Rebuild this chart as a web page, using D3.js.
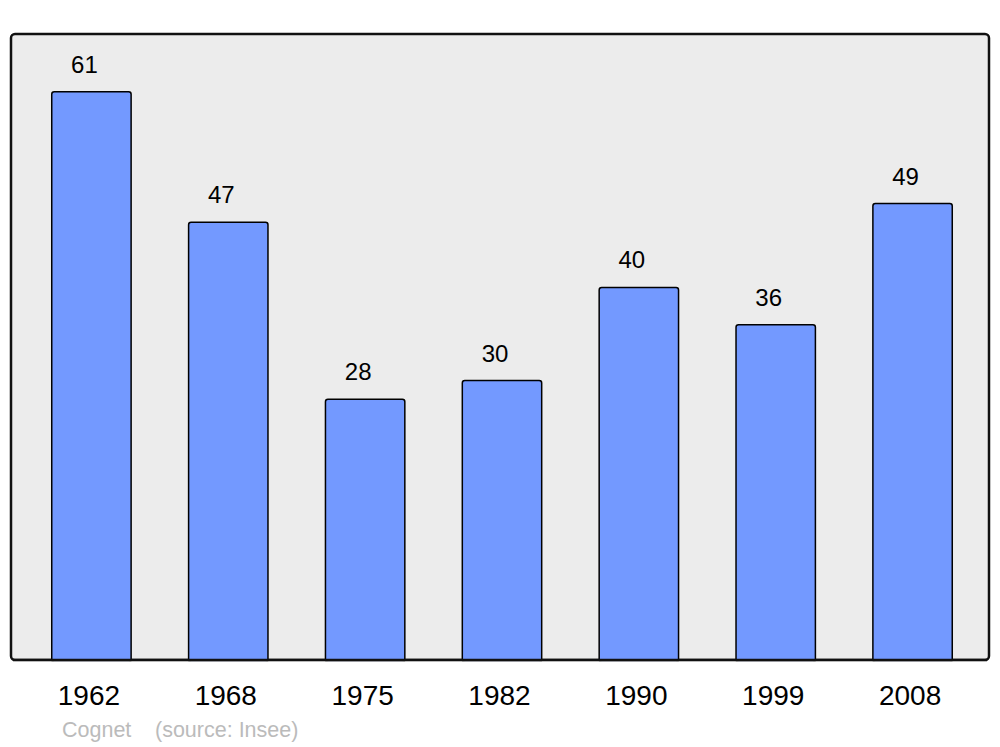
<!DOCTYPE html>
<html><head><meta charset="utf-8">
<script src="https://cdn.jsdelivr.net/npm/d3@7"></script>
<style>html,body{margin:0;padding:0;background:#fff;}svg{display:block;}</style>
</head><body>
<svg id="chart" width="1000" height="747"></svg>
<script>
const years = ["1962","1968","1975","1982","1990","1999","2008"];
const population = [61, 47, 28, 30, 40, 36, 49];
const credit = "Cognet";
const source = "(source: Insee)";

const svg = d3.select("#chart");
const font = "'Liberation Sans', Arial, sans-serif";
const panel = {x0: 11, y0: 34, x1: 989, y1: 660};

svg.append("rect")
  .attr("x", panel.x0).attr("y", panel.y0)
  .attr("width", panel.x1 - panel.x0).attr("height", panel.y1 - panel.y0)
  .attr("rx", 4).attr("ry", 4)
  .attr("fill", "#ececec").attr("stroke", "#111").attr("stroke-width", 2.5);

const x = d3.scaleBand().domain(years).range([23, 981]).paddingInner(0.42).paddingOuter(0.21);
const y = d3.scaleLinear().domain([0, d3.max(population) * 1.1]).range([panel.y1, panel.y0 + 1]);

const data = years.map((yr, i) => ({year: yr, value: population[i]}));

svg.selectAll("rect.bar").data(data).enter().append("rect")
  .attr("class", "bar")
  .attr("x", d => x(d.year))
  .attr("y", d => y(d.value))
  .attr("width", x.bandwidth())
  .attr("height", d => y(0) - y(d.value) + 2)
  .attr("rx", 2.5).attr("ry", 2.5)
  .attr("fill", "#7399ff").attr("stroke", "#000").attr("stroke-width", 1.5);

svg.append("rect")
  .attr("x", 0).attr("y", panel.y1 + 1.25).attr("width", 1000).attr("height", 10).attr("fill", "#fff");
svg.append("line")
  .attr("x1", panel.x0 + 2).attr("x2", panel.x1 - 2)
  .attr("y1", panel.y1).attr("y2", panel.y1)
  .attr("stroke", "#111").attr("stroke-width", 2.5);

svg.selectAll("text.val").data(data).enter().append("text")
  .attr("class", "val")
  .attr("x", d => x(d.year) + x.bandwidth() / 2 - 7)
  .attr("y", d => y(d.value) - 19)
  .attr("text-anchor", "middle")
  .attr("font-family", font).attr("font-size", 24).attr("fill", "#000")
  .text(d => d.value);

const xAxis = d3.axisBottom(x).tickSize(0).tickPadding(0);
const gx = svg.append("g").attr("transform", `translate(-2.5,${panel.y1})`).call(xAxis);
gx.select(".domain").remove();
gx.selectAll("text")
  .attr("font-family", font).attr("font-size", 28).attr("fill", "#000")
  .attr("dy", null).attr("y", 45);

svg.append("text").attr("x", 62).attr("y", 737)
  .attr("font-family", font).attr("font-size", 21.5).attr("fill", "#bbbbbb")
  .text(credit);
svg.append("text").attr("x", 155).attr("y", 737)
  .attr("font-family", font).attr("font-size", 21.5).attr("fill", "#bbbbbb")
  .text(source);
</script>
</body></html>
